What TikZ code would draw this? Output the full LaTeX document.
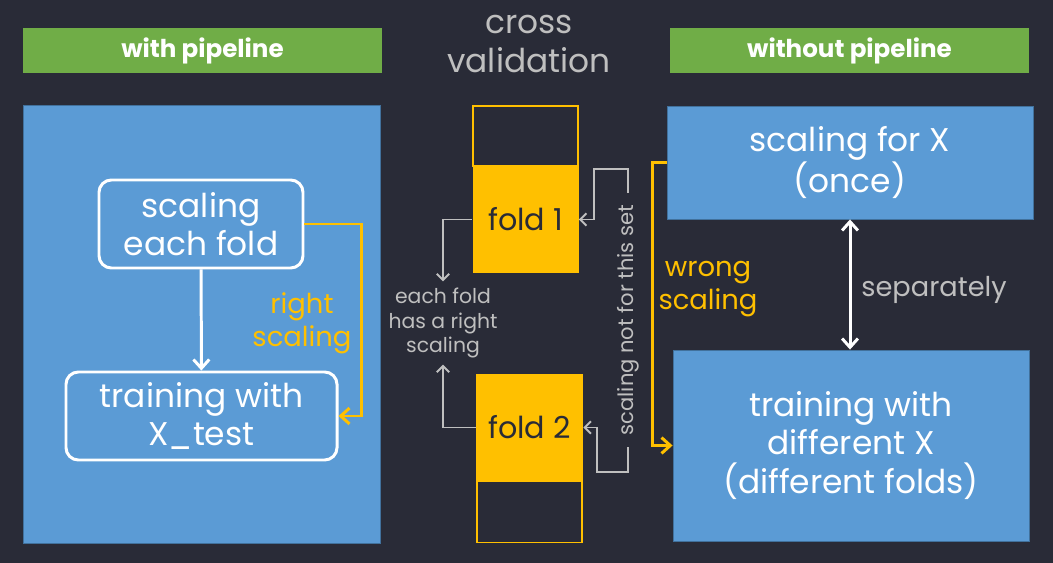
\documentclass[tikz,border=0pt]{standalone}
\usepackage{fontspec}
\setmainfont{Poppins}
\usetikzlibrary{arrows.meta}
\definecolor{bgdark}{RGB}{41,43,55}
\definecolor{panelblue}{RGB}{91,155,213}
\definecolor{paneledge}{RGB}{65,113,156}
\definecolor{headgreen}{RGB}{112,173,71}
\definecolor{foldyellow}{RGB}{255,192,0}
\definecolor{notegray}{RGB}{191,191,191}
\tikzset{
	header/.style={fill=headgreen, text=white, font=\bfseries\fontsize{14}{16}\selectfont, minimum width=359*0.02cm, minimum height=45*0.02cm, inner sep=0pt},
	panel/.style={fill=panelblue, draw=paneledge, line width=0.5pt, text=white, align=center, font=\fontsize{18.7}{22}\selectfont, inner sep=0pt},
	stepbox/.style={draw=white, line width=1.7pt, rounded corners=7pt, text=white, align=center, font=\fontsize{18.7}{22}\selectfont, inner sep=0pt},
	foldfull/.style={fill=foldyellow, text=bgdark, font=\fontsize{17.2}{22}\selectfont, inner sep=0pt},
	foldempty/.style={draw=foldyellow, line width=1.1pt, inner sep=0pt},
	note/.style={text=notegray, align=center, font=\fontsize{11.6}{14.2}\selectfont},
	yellownote/.style={text=foldyellow, align=center, font=\fontsize{15.6}{18.7}\selectfont},
	whitearrow/.style={draw=white, line width=1.7pt, -{Straight Barb[length=5pt,width=9pt]}},
	yellowarrow/.style={draw=foldyellow, line width=1.7pt, -{Straight Barb[length=5pt,width=9pt]}},
	grayarrow/.style={draw=notegray, line width=1.1pt, -{Straight Barb[length=3.5pt,width=7pt]}},
}
\begin{document}
\begin{tikzpicture}[x=0.02cm, y=-0.02cm]
		%%%%% BACKGROUND %%%%%
		\fill[bgdark] (0,0) rectangle (1053,563);
		\useasboundingbox (0,0) rectangle (1053,563);
		
		%%%%% HEADERS %%%%%
		\node[header] (withpipe) at (202.5,50.5) {with pipeline};
		\node[header] (withoutpipe) at (849.5,50.5) {without pipeline};
		\node[text=notegray, align=center, font=\fontsize{18.7}{22}\selectfont] (cv) at (529,44) {cross\\validation};
		
		%%%%% WITH PIPELINE %%%%%
		\node[panel, minimum width=357*0.02cm, minimum height=438*0.02cm] (leftpanel) at (201.5,324) {};
		\node[stepbox, minimum width=204*0.02cm, minimum height=88*0.02cm] (scalefold) at (201,224) {scaling\\each fold};
		\node[stepbox, minimum width=271*0.02cm, minimum height=88*0.02cm] (trainxtest) at (201.5,416) {training with\\X\_test};
		\draw[whitearrow] (scalefold) -- (trainxtest);
		\draw[yellowarrow] (scalefold.east) -- ++(57,0) |- (trainxtest.east);
		\node[yellownote] (rightscale) at (302,323) {right\\scaling};
		
		%%%%% FOLDS %%%%%
		\node[foldempty, minimum width=105*0.02cm, minimum height=60*0.02cm] (foldtop) at (525.5,136) {};
		\node[foldfull, minimum width=106*0.02cm, minimum height=107*0.02cm] (fold1) at (525.5,219.5) {fold 1};
		\node[foldfull, minimum width=107*0.02cm, minimum height=107*0.02cm] (fold2) at (529.5,427.5) {fold 2};
		\node[foldempty, minimum width=105*0.02cm, minimum height=61*0.02cm] (foldbottom) at (529.5,512) {};
		
		\node[note] (eachfold) at (443,323) {each fold\\has a right\\scaling};
		\draw[grayarrow] (fold1.west) -| (eachfold.north);
		\draw[grayarrow] (fold2.west) -| (eachfold.south);
		
		\node[note, font=\fontsize{12}{14}\selectfont, rotate=90, minimum width=254*0.02cm, inner sep=0pt] (notthisset) at (628,320) {scaling not for this set};
		\draw[grayarrow] (notthisset.east) -- ++(0,-24) -- ++(-34,0) |- (fold1.east);
		\draw[grayarrow] (notthisset.west) -- ++(0,25) -- ++(-31,0) |- (fold2.east);
		
		%%%%% WITHOUT PIPELINE %%%%%
		\node[panel, minimum width=366*0.02cm, minimum height=113*0.02cm] (scaleonce) at (850,162.5) {scaling for X\\(once)};
		\node[panel, minimum width=356*0.02cm, minimum height=191*0.02cm] (traindiff) at (851,445.5) {training with\\different X\\(different folds)};
		\draw[yellowarrow] (scaleonce.west) -- ++(-14,0) |- (traindiff.west);
		\node[yellownote] (wrongscale) at (708,289) {wrong\\scaling};
		\draw[whitearrow, {Straight Barb[length=5pt,width=9pt]}-{Straight Barb[length=5pt,width=9pt]}] (scaleonce.south) -- (scaleonce.south |- traindiff.north);
		\node[note, font=\fontsize{15.5}{18}\selectfont] (separately) at (934,290) {separately};
\end{tikzpicture}
\end{document}
